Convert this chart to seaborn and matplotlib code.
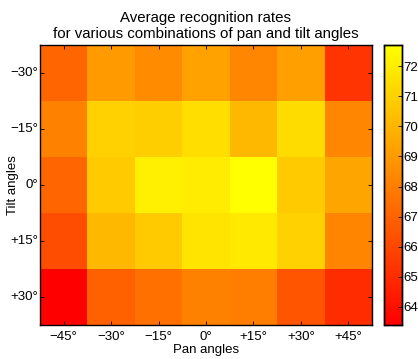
import matplotlib
matplotlib.use('Agg')
import matplotlib.pyplot as plt
import numpy as np
import pandas as pd
import seaborn as sns

# Datos
pan_labels = ['\u221245\u00b0', '\u221230\u00b0', '\u221215\u00b0', '0\u00b0', '+15\u00b0', '+30\u00b0', '+45\u00b0']
tilt_labels = ['\u221230\u00b0', '\u221215\u00b0', '0\u00b0', '+15\u00b0', '+30\u00b0']

tilt_m30 = [67.1, 69.0, 68.5, 69.3, 68.3, 69.2, 65.3]
tilt_m15 = [68.1, 71.0, 70.9, 71.5, 70.1, 71.4, 68.3]
tilt_0 = [67.1, 70.8, 72.1, 72.0, 72.7, 70.8, 69.4]
tilt_p15 = [66.2, 70.1, 70.8, 71.7, 71.9, 71.0, 68.2]
tilt_p30 = [63.4, 66.9, 67.5, 68.1, 68.0, 66.5, 65.0]

df = pd.DataFrame([tilt_m30, tilt_m15, tilt_0, tilt_p15, tilt_p30],
                  index=tilt_labels, columns=pan_labels)

plt.rcParams['font.family'] = ['Liberation Sans', 'DejaVu Sans']

fig = plt.figure(figsize=(4.18, 3.59), dpi=100)
ax = fig.add_axes([40 / 418, 34 / 359, 332 / 418, 280 / 359])
cax = fig.add_axes([384 / 418, 34 / 359, 18 / 418, 280 / 359])

sns.heatmap(df, cmap='autumn', ax=ax, cbar_ax=cax, linewidths=0)

ax.set_title('Average recognition rates\nfor various combinations of pan and tilt angles',
             fontsize=10.8, pad=5, linespacing=1.15)
ax.set_xlabel('Pan angles', fontsize=9.5, labelpad=1)
ax.set_ylabel('Tilt angles', fontsize=9.5)
ax.yaxis.set_label_coords(-0.062, 0.5)
ax.tick_params(axis='both', direction='in', length=3, width=0.6, labelsize=9.5,
               top=True, right=True)
ax.tick_params(axis='y', pad=1)
ax.tick_params(axis='x', pad=4)
ax.set_xticklabels(pan_labels, rotation=0)
ax.set_yticklabels(tilt_labels, rotation=0)
for s in ax.spines.values():
    s.set_visible(True)
    s.set_linewidth(1.0)
    s.set_color('black')

cax.set_yticks(np.arange(64, 73))
cax.tick_params(direction='in', length=3, width=0.6, labelsize=9.5, pad=1)
for s in cax.spines.values():
    s.set_visible(True)
    s.set_linewidth(1.0)
    s.set_color('black')

fig.savefig('out.png', dpi=100)
